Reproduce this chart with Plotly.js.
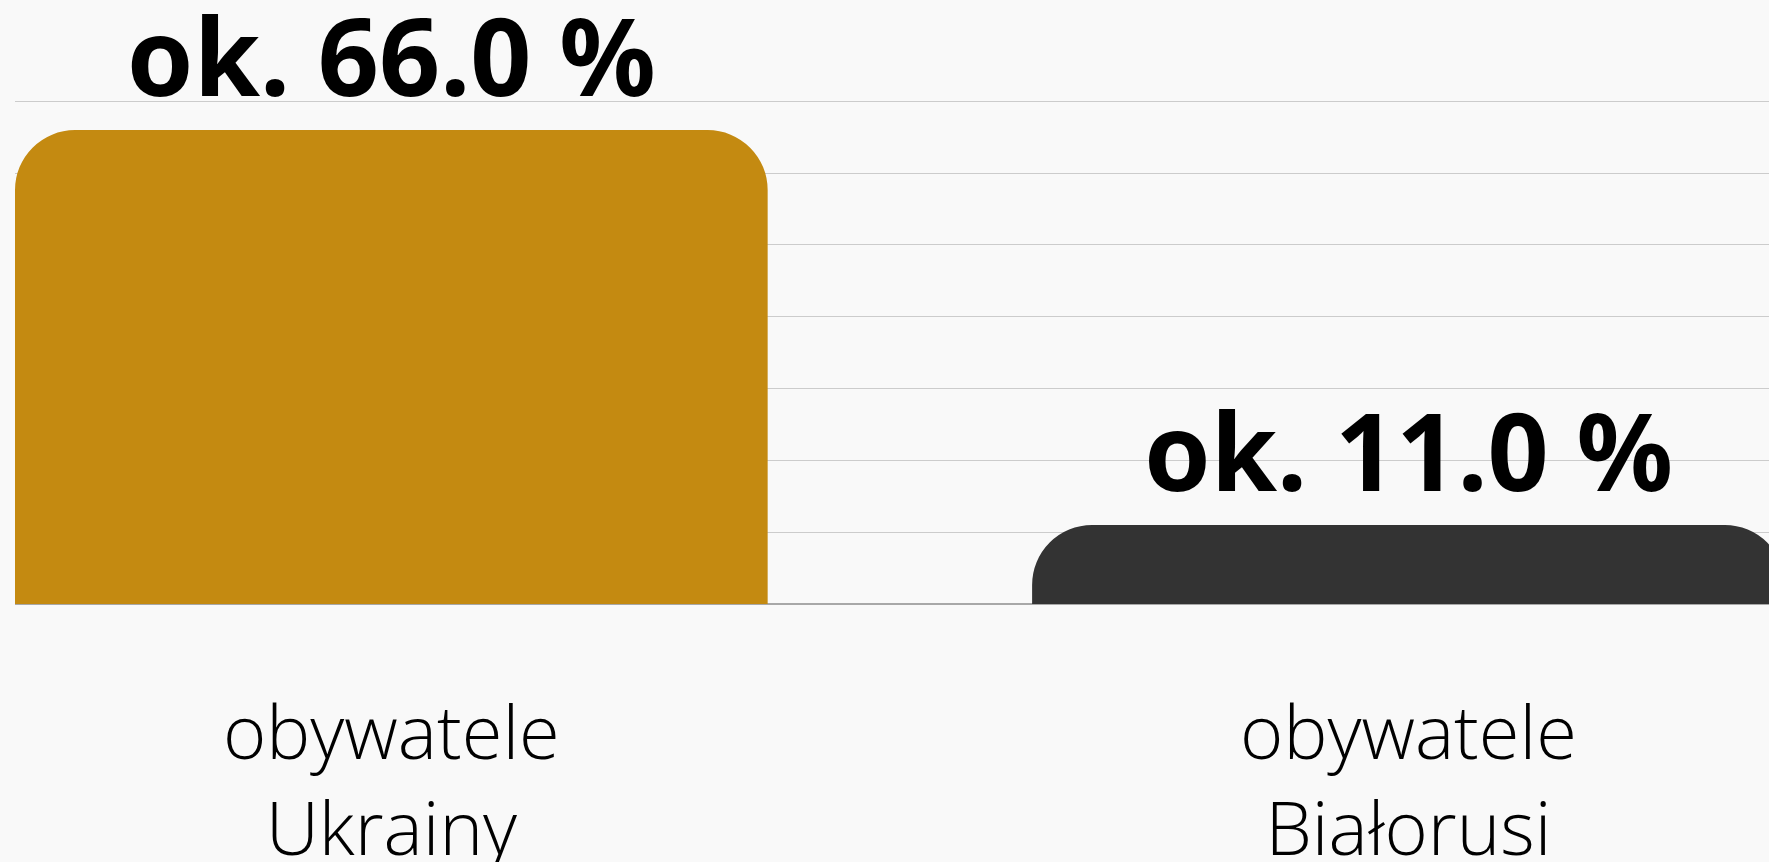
<!DOCTYPE html>
<html>
<head>
<meta charset="utf-8">
<script src="https://cdn.plot.ly/plotly-3.0.1.min.js"></script>
<style>
  html, body { margin: 0; padding: 0; background: #f9f9f9; }
  #chart { width: 1769px; height: 862px; }
</style>
</head>
<body>
<div id="chart"></div>
<script>
const categories = ["obywatele<br>Ukrainy", "obywatele<br>Białorusi"];
const values = [66.0, 11.0];
const barColors = ["#c48a11", "#333333"];
const valueLabels = values.map(v => "ok. " + v.toFixed(1) + " %");

const trace = {
  type: "bar",
  x: categories,
  y: values,
  text: valueLabels,
  textposition: "outside",
  constraintext: "none",
  cliponaxis: false,
  textfont: { family: "Noto Sans, Open Sans, sans-serif", size: 107, weight: 700, color: "#000000" },
  width: 0.74,
  marker: { color: barColors, cornerradius: 60, line: { width: 0 } },
  hoverinfo: "skip"
};

const layout = {
  width: 1769,
  height: 862,
  margin: { l: 15, r: 0, t: 86.6, b: 258 },
  paper_bgcolor: "#f9f9f9",
  plot_bgcolor: "#f9f9f9",
  showlegend: false,
  xaxis: {
    type: "category",
    range: [-0.37, 1.3545],
    showgrid: false,
    zeroline: false,
    showline: false,
    ticks: "outside",
    ticklen: 65,
    tickcolor: "rgba(0,0,0,0)",
    tickfont: { family: "Open Sans, Noto Sans, sans-serif", size: 74, weight: 300, color: "#000000" },
    fixedrange: true
  },
  yaxis: {
    range: [0, 72],
    dtick: 10,
    tick0: 0,
    showticklabels: false,
    showgrid: true,
    gridcolor: "#cccccc",
    gridwidth: 1,
    zeroline: true,
    zerolinecolor: "#a8a8a8",
    zerolinewidth: 2,
    showline: false,
    ticks: "",
    fixedrange: true
  }
};

Plotly.newPlot("chart", [trace], layout, { displayModeBar: false, staticPlot: true });
</script>
</body>
</html>
